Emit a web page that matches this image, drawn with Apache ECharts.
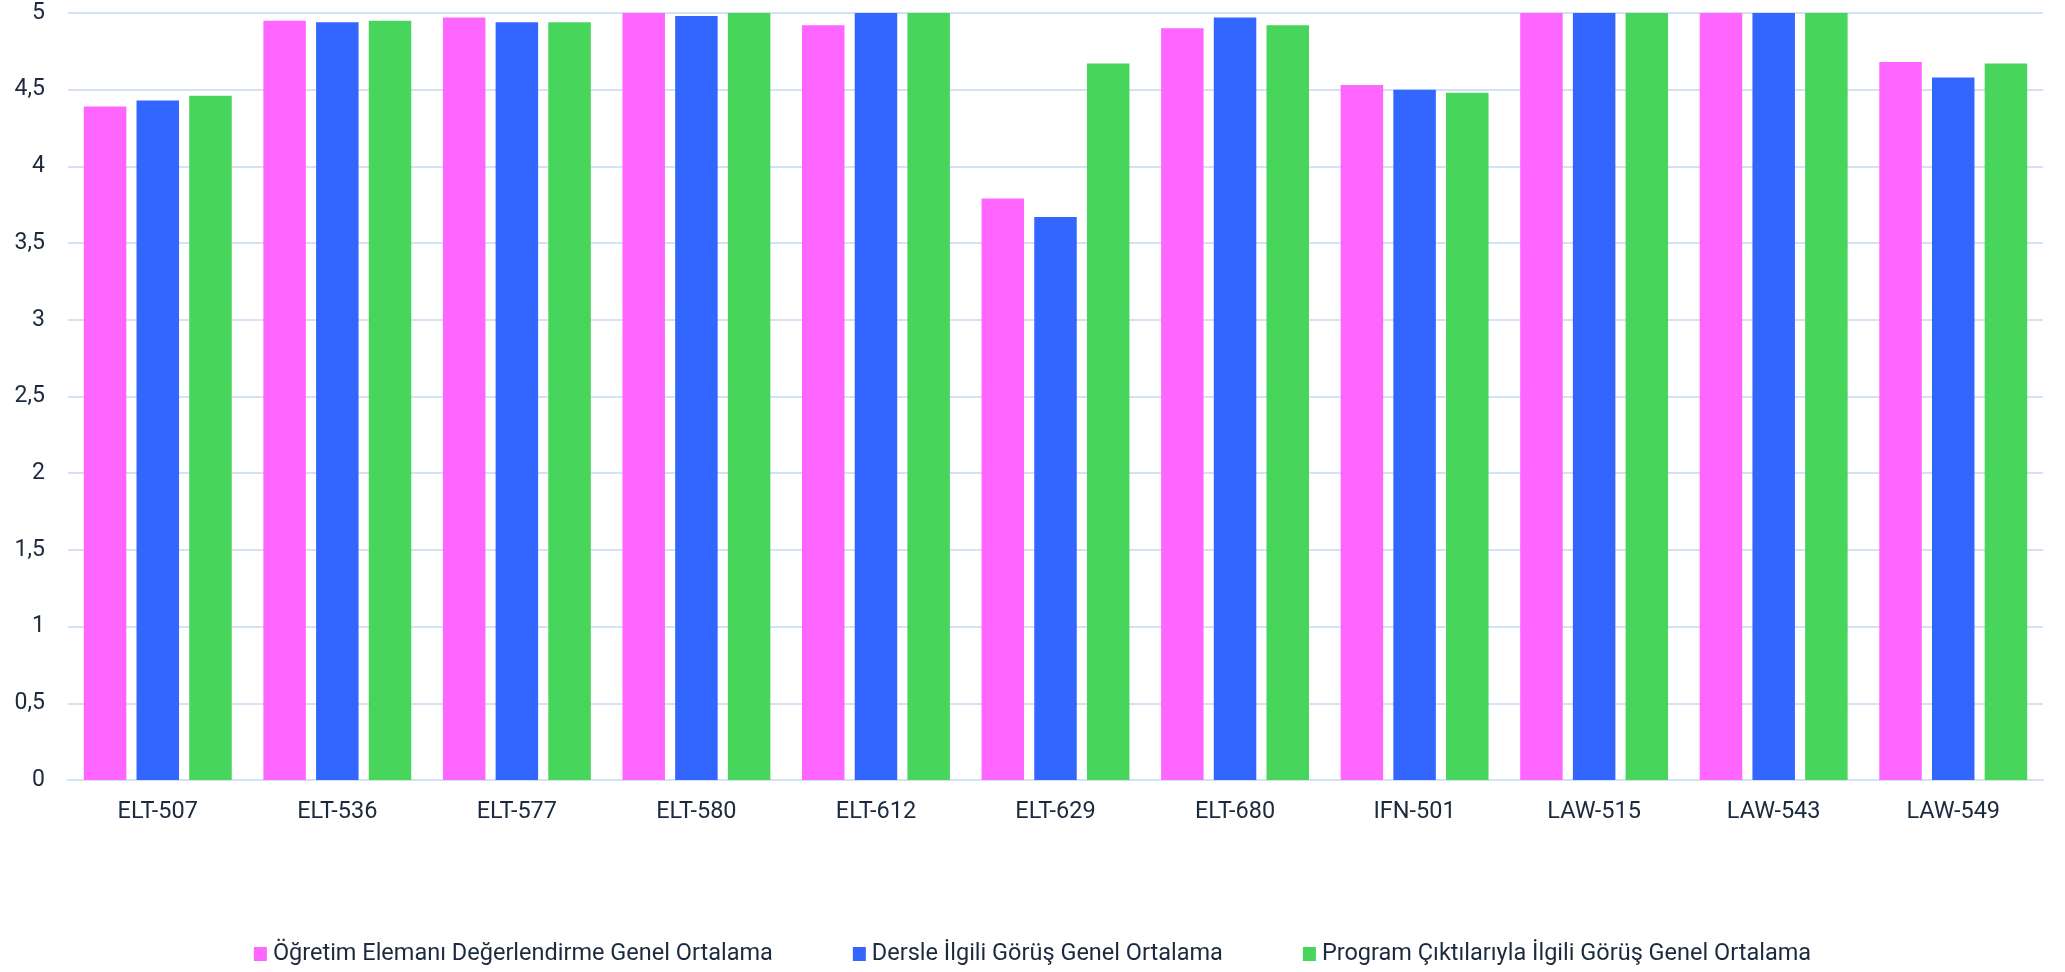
<!DOCTYPE html>
<html>
<head>
<meta charset="utf-8">
<script src="https://cdn.jsdelivr.net/npm/echarts@6/dist/echarts.min.js"></script>
<style>
html,body{margin:0;padding:0;background:#fff;}
#chart{width:2065px;height:972px;}
</style>
</head>
<body>
<div id="chart"></div>
<script>
const categories = ["ELT-507","ELT-536","ELT-577","ELT-580","ELT-612","ELT-629","ELT-680","IFN-501","LAW-515","LAW-543","LAW-549"];
const seriesNames = ["Öğretim Elemanı Değerlendirme Genel Ortalama","Dersle İlgili Görüş Genel Ortalama","Program Çıktılarıyla İlgili Görüş Genel Ortalama"];
const ogretimElemani = [4.39,4.95,4.97,5.00,4.92,3.79,4.90,4.53,5.00,5.00,4.68];
const dersle = [4.43,4.94,4.94,4.98,5.00,3.67,4.97,4.50,5.00,5.00,4.58];
const programCiktilari = [4.46,4.95,4.94,5.00,5.00,4.67,4.92,4.48,5.00,5.00,4.67];
const colors = ["#ff66ff","#3366ff","#48d55b"];

const textColor = "#1b2a3d";
const fontFamily = "Roboto, 'Noto Sans', sans-serif";
const chart = echarts.init(document.getElementById('chart'), null, {renderer:'canvas'});
const dataSets = [ogretimElemani, dersle, programCiktilari];
chart.setOption({
  animation:false,
  backgroundColor:'#ffffff',
  textStyle:{fontFamily:fontFamily},
  grid:{left:68,right:22,top:13,bottom:192,containLabel:false},
  legend:{
    bottom:1,
    left:'center',
    itemWidth:13,
    itemHeight:14,
    itemGap:80,
    icon:'rect',
    textStyle:{color:textColor,fontSize:23.5,fontFamily:fontFamily,padding:[0,0,0,1]},
    data:seriesNames
  },
  xAxis:{
    type:'category',
    data:categories,
    axisLine:{show:true,lineStyle:{color:'#d3e2f4',width:2}},
    axisTick:{show:false},
    axisLabel:{color:textColor,fontSize:23.5,margin:20,fontFamily:fontFamily}
  },
  yAxis:{
    type:'value',
    min:0,max:5,interval:0.5,
    axisLine:{show:false},
    axisTick:{show:false},
    splitLine:{lineStyle:{color:'#d3e2f4',width:2}},
    axisLabel:{color:textColor,fontSize:23,margin:23,fontFamily:fontFamily,
      formatter:function(v){return String(v).replace('.',',');}}
  },
  series: seriesNames.map(function(n,i){
    return {
      name:n,type:'bar',data:dataSets[i],
      barWidth:42.5,barGap:'24%',
      itemStyle:{color:colors[i]}
    };
  })
});
</script>
</body>
</html>
